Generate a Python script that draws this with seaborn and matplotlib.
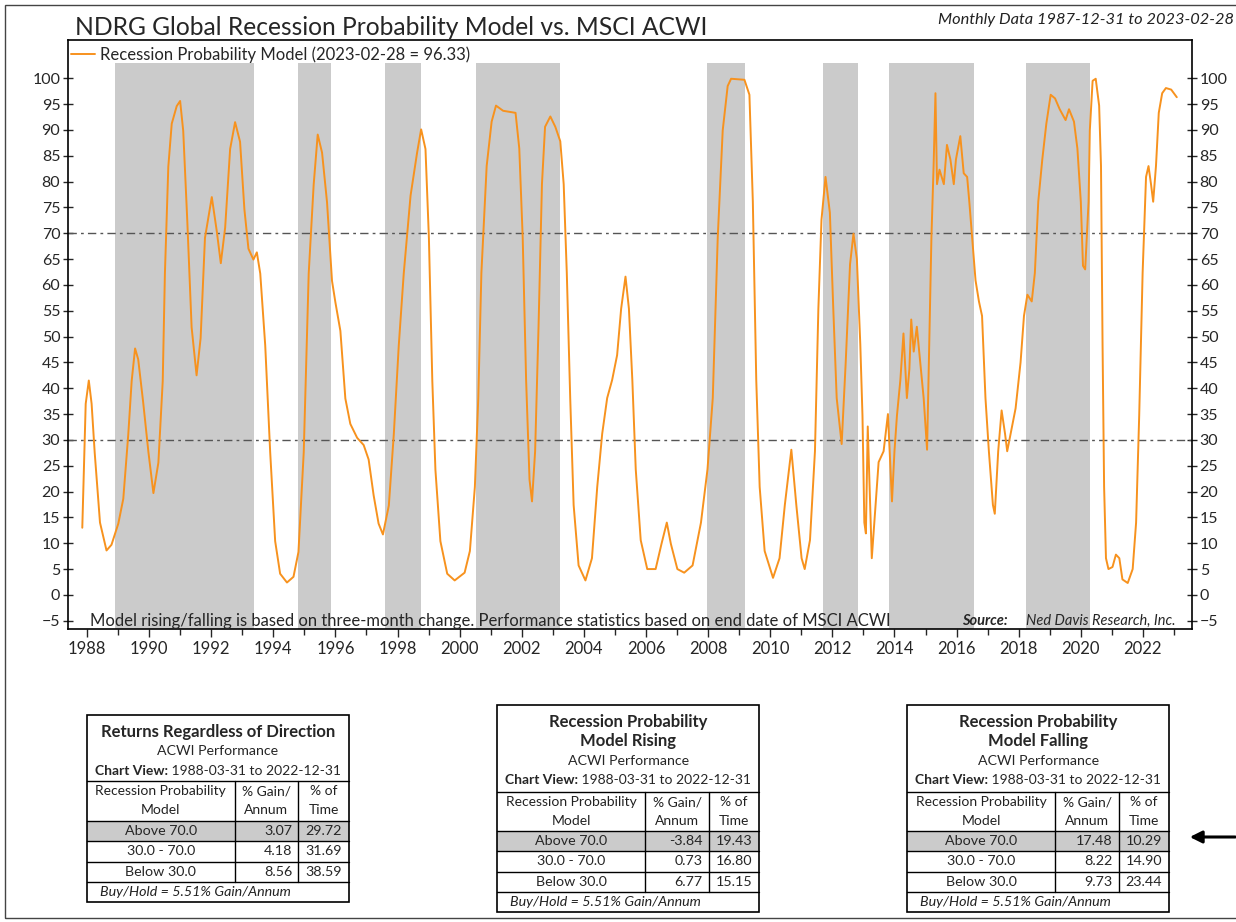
import matplotlib
matplotlib.use('Agg')
import matplotlib.pyplot as plt
from matplotlib.patches import Rectangle, FancyArrowPatch
from matplotlib.lines import Line2D
import matplotlib.transforms as mtransforms
import pandas as pd
import seaborn as sns

# ---- data ----
model_years = [
    1987.85, 1987.96, 1988.06, 1988.15, 1988.25, 1988.42, 1988.63, 1988.79, 1989.01, 1989.17,
    1989.33, 1989.44, 1989.55, 1989.65, 1989.81, 1989.98, 1990.14, 1990.30, 1990.44, 1990.51,
    1990.62, 1990.73, 1990.89, 1991.00, 1991.10, 1991.23, 1991.37, 1991.53, 1991.66, 1991.80,
    1992.02, 1992.18, 1992.31, 1992.45, 1992.61, 1992.77, 1992.93, 1993.07, 1993.20, 1993.36,
    1993.47, 1993.58, 1993.74, 1993.90, 1994.06, 1994.22, 1994.44, 1994.65, 1994.81, 1994.98,
    1995.14, 1995.30, 1995.43, 1995.57, 1995.73, 1995.89, 1996.00, 1996.16, 1996.32, 1996.48,
    1996.70, 1996.91, 1997.07, 1997.23, 1997.39, 1997.53, 1997.72, 1997.88, 1998.04, 1998.20,
    1998.42, 1998.63, 1998.76, 1998.90, 1999.01, 1999.12, 1999.22, 1999.38, 1999.60, 1999.84,
    2000.16, 2000.33, 2000.49, 2000.60, 2000.70, 2000.87, 2001.03, 2001.17, 2001.40, 2001.80,
    2001.92, 2002.03, 2002.14, 2002.25, 2002.33, 2002.43, 2002.54, 2002.65, 2002.75, 2002.92,
    2003.08, 2003.24, 2003.35, 2003.45, 2003.56, 2003.67, 2003.83, 2004.05, 2004.26, 2004.43,
    2004.59, 2004.75, 2004.91, 2005.07, 2005.20, 2005.34, 2005.45, 2005.56, 2005.67, 2005.83,
    2006.04, 2006.31, 2006.50, 2006.67, 2006.80, 2007.01, 2007.23, 2007.50, 2007.77, 2007.98,
    2008.15, 2008.31, 2008.47, 2008.63, 2008.74, 2009.17, 2009.33, 2009.44, 2009.55, 2009.66,
    2009.82, 2010.09, 2010.30, 2010.47, 2010.68, 2010.84, 2011.01, 2011.11, 2011.28, 2011.44,
    2011.55, 2011.65, 2011.78, 2011.92, 2012.03, 2012.14, 2012.30, 2012.43, 2012.57, 2012.68,
    2012.79, 2012.90, 2012.97, 2013.03, 2013.08, 2013.14, 2013.27, 2013.49, 2013.65, 2013.79,
    2013.92, 2014.00, 2014.08, 2014.19, 2014.29, 2014.40, 2014.48, 2014.54, 2014.62, 2014.72,
    2014.83, 2014.94, 2015.05, 2015.12, 2015.19, 2015.26, 2015.32, 2015.37, 2015.45, 2015.59,
    2015.69, 2015.80, 2015.91, 2015.98, 2016.12, 2016.23, 2016.34, 2016.41, 2016.50, 2016.61,
    2016.72, 2016.82, 2016.93, 2017.04, 2017.17, 2017.23, 2017.34, 2017.45, 2017.56, 2017.63,
    2017.74, 2017.90, 2018.06, 2018.17, 2018.28, 2018.42, 2018.52, 2018.63, 2018.76, 2018.89,
    2019.03, 2019.17, 2019.32, 2019.51, 2019.62, 2019.78, 2019.89, 2020.00, 2020.07, 2020.14,
    2020.25, 2020.29, 2020.38, 2020.48, 2020.59, 2020.65, 2020.70, 2020.75, 2020.81, 2020.89,
    2021.02, 2021.13, 2021.24, 2021.34, 2021.51, 2021.67, 2021.78, 2021.88, 2021.99, 2022.10,
    2022.18, 2022.26, 2022.33, 2022.42, 2022.51, 2022.62, 2022.74, 2022.91, 2023.09,
]
model_values = [
    13.0, 37.0, 41.5, 37.0, 27.5, 14.0, 8.6, 9.7, 13.8, 18.6,
    31.0, 41.4, 47.7, 45.6, 37.3, 27.6, 19.7, 25.6, 41.4, 62.2,
    82.9, 91.2, 94.6, 95.6, 89.8, 72.5, 51.8, 42.5, 49.7, 69.1,
    77.0, 70.4, 64.2, 71.1, 86.3, 91.5, 87.7, 74.6, 67.0, 64.9,
    66.3, 62.2, 48.3, 27.6, 10.4, 4.1, 2.4, 3.5, 8.3, 27.6,
    62.2, 79.4, 89.1, 85.6, 76.0, 60.8, 56.6, 51.1, 38.0, 33.1,
    30.4, 29.0, 26.2, 19.3, 13.8, 11.7, 17.3, 31.1, 48.3, 62.2,
    77.3, 85.6, 90.1, 86.3, 69.1, 41.4, 24.2, 10.4, 4.1, 2.8,
    4.3, 8.5, 20.9, 38.1, 62.3, 83.0, 91.6, 94.7, 93.7, 93.3,
    86.4, 69.2, 41.6, 22.3, 18.1, 27.8, 51.9, 79.5, 90.6, 92.6,
    90.6, 87.8, 79.5, 62.3, 38.1, 17.4, 5.7, 2.8, 7.1, 20.9,
    31.2, 38.1, 41.6, 46.4, 55.4, 61.6, 55.4, 41.6, 24.3, 10.6,
    5.0, 5.0, 9.9, 14.0, 9.9, 5.0, 4.3, 5.7, 14.0, 24.3,
    38.1, 69.2, 89.9, 98.5, 99.9, 99.7, 96.8, 76.1, 41.6, 20.9,
    8.5, 3.3, 7.1, 17.4, 28.1, 17.4, 7.1, 5.0, 10.6, 27.8,
    55.4, 72.6, 80.9, 74.0, 55.4, 38.1, 29.2, 45.0, 64.0, 69.9,
    65.0, 48.5, 34.7, 14.0, 11.9, 32.6, 7.1, 25.7, 27.8, 35.0,
    18.1, 27.8, 34.7, 41.6, 50.6, 38.1, 43.7, 53.3, 47.1, 51.9,
    45.0, 38.1, 28.1, 48.5, 69.2, 83.0, 97.1, 79.5, 82.3, 79.5,
    87.1, 84.3, 79.5, 84.3, 88.8, 81.6, 80.9, 76.1, 69.2, 60.9,
    56.8, 54.0, 38.1, 27.8, 17.4, 15.7, 27.8, 35.7, 31.2, 27.8,
    31.2, 36.1, 45.0, 54.0, 58.1, 56.8, 62.3, 76.1, 84.3, 91.2,
    96.8, 96.1, 94.0, 91.9, 94.0, 91.6, 86.4, 76.1, 63.7, 63.0,
    76.1, 89.9, 99.5, 99.9, 94.7, 83.0, 48.5, 20.9, 7.1, 5.0,
    5.4, 7.8, 7.1, 3.0, 2.3, 5.0, 14.0, 34.7, 62.3, 80.9,
    83.0, 79.5, 76.1, 83.0, 93.3, 97.1, 98.1, 97.8, 96.33,
]

band_starts = [1988.90, 1994.81, 1997.61, 2000.52, 2007.97, 2011.71, 2013.81, 2018.23]
band_ends = [1993.39, 1995.87, 1998.74, 2003.23, 2009.19, 2012.81, 2016.55, 2020.29]

zone_labels = ["Above 70.0", "30.0 - 70.0", "Below 30.0"]
all_gain = [3.07, 4.18, 8.56]
all_time = [29.72, 31.69, 38.59]
rising_gain = [-3.84, 0.73, 6.77]
rising_time = [19.43, 16.80, 15.15]
falling_gain = [17.48, 8.22, 9.73]
falling_time = [10.29, 14.90, 23.44]
buy_hold = 5.51
chart_view = "1988-03-31 to 2022-12-31"

ORANGE = '#f7921e'
BAND = '#cbcbcb'

sns.set_style('white')
plt.rcParams['font.family'] = ['Lato', 'DejaVu Sans']

W, H = 1236, 922
fig = plt.figure(figsize=(W / 100, H / 100), dpi=100)


def fx(x):
    return x / W


def fy(y):
    return 1 - y / H


# ---- main chart ----
ax = fig.add_axes([fx(68), fy(629), fx(1192) - fx(68), fy(40) - fy(629)])
ylo, yhi = -6.6, 107.4
band_top = (103 - ylo) / (yhi - ylo)
for a, b in zip(band_starts, band_ends):
    ax.axvspan(a, b, ymin=0, ymax=band_top, color=BAND, lw=0, zorder=0)

for lvl in (30, 70):
    ax.axhline(lvl, color='#555555', lw=1.0, dashes=(6, 3, 2, 3), zorder=1)

df = pd.DataFrame({'year': model_years, 'prob': model_values})
sns.lineplot(data=df, x='year', y='prob', ax=ax, color=ORANGE, lw=1.4, zorder=3,
             label='Recession Probability Model (2023-02-28 = 96.33)')

ax.set_xlim(1987.39, 2023.58)
ax.set_ylim(ylo, yhi)
ax.set_xticks(range(1988, 2023, 2))
ax.set_xticks(range(1989, 2024, 2), minor=True)
ax.set_yticks(range(-5, 101, 5))
ax.set_xlabel('')
ax.set_ylabel('')
ax.tick_params(axis='y', left=True, right=True, labelleft=True, labelright=True,
               direction='inout', length=7, width=1, labelsize=11.5, pad=2)
ax.tick_params(axis='x', which='major', bottom=True, direction='out', length=6, width=1,
               labelsize=12, pad=3)
ax.tick_params(axis='x', which='minor', bottom=True, direction='out', length=4, width=1)
for sp in ax.spines.values():
    sp.set_color('black')
    sp.set_linewidth(1.2)

ax.legend(loc='center left', bbox_to_anchor=(0.003, 1 - 15 / 589), frameon=False,
          fontsize=12, handlelength=1.4, handletextpad=0.3, borderpad=0, borderaxespad=0)

trans = mtransforms.blended_transform_factory(ax.transAxes, ax.transData)
ax.text((90 - 68) / 1124, -5, 'Model rising/falling is based on three-month change. '
        'Performance statistics based on end date of MSCI ACWI',
        transform=trans, va='center', ha='left', fontsize=12, zorder=4)
ax.text((962 - 68) / 1124, -5, 'Source:', transform=trans, va='center', ha='left',
        fontsize=10.5, style='italic', fontweight='bold', zorder=4)
ax.text((1175 - 68) / 1124, -5, 'Ned Davis Research, Inc.', transform=trans, va='center',
        ha='right', fontsize=10.5, style='italic', zorder=4)

fig.text(fx(75), fy(35), 'NDRG Global Recession Probability Model vs. MSCI ACWI',
         fontsize=17.7, ha='left', va='baseline')
fig.text(fx(1234), fy(24), 'Monthly Data 1987-12-31 to 2023-02-28', fontsize=11.8,
         style='italic', ha='right', va='baseline', color='#222222')

# ---- tables ----
renderer = fig.canvas.get_renderer()


def hline(x0, x1, y, lw=1.0):
    fig.add_artist(Line2D([fx(x0), fx(x1)], [fy(y), fy(y)], color='black', lw=lw,
                          transform=fig.transFigure))


def vline(x, y0, y1, lw=1.0):
    fig.add_artist(Line2D([fx(x), fx(x)], [fy(y0), fy(y1)], color='black', lw=lw,
                          transform=fig.transFigure))


def chart_view_line(cx, y):
    t1 = fig.text(0, fy(y), 'Chart View:', fontsize=10, fontweight='bold', va='center')
    t2 = fig.text(0, fy(y), ' ' + chart_view, fontsize=10, va='center')
    w1 = t1.get_window_extent(renderer).width
    w2 = t2.get_window_extent(renderer).width
    start = cx - (w1 + w2) / 2
    t1.set_x(fx(start))
    t2.set_x(fx(start + w1))


def draw_table(left, top, titles, gains, times, title_h, header_h):
    width = 262
    right = left + width
    c1, c2 = left + 148, left + 211.5
    row_h, foot_h = 20.3, 20.5
    y_head = top + title_h
    y_rows = y_head + header_h
    y_foot = y_rows + 3 * row_h
    bottom = y_foot + foot_h
    cx = left + width / 2

    # highlighted "Above 70.0" row
    fig.add_artist(Rectangle((fx(left), fy(y_rows + row_h)), fx(width), fy(y_rows) - fy(y_rows + row_h),
                             transform=fig.transFigure, color=BAND, lw=0))

    for i, (txt, size, weight) in enumerate(titles):
        y = top + 16.7 + i * 19.4
        if txt == 'CHART_VIEW':
            chart_view_line(cx, y)
        else:
            fig.text(fx(cx), fy(y), txt, fontsize=size, fontweight=weight, ha='center', va='center')

    for txt, x in [('Recession Probability\nModel', left + 74), ('% Gain/\nAnnum', (c1 + c2) / 2),
                   ('% of\nTime', (c2 + right) / 2)]:
        for j, part in enumerate(txt.split('\n')):
            fig.text(fx(x), fy(y_head + 10 + j * 18.6), part, fontsize=10, ha='center', va='center',
                     color='#222222')

    for k in range(3):
        y = y_rows + (k + 0.5) * row_h
        fig.text(fx(left + 74), fy(y), zone_labels[k], fontsize=10.3, ha='center', va='center')
        fig.text(fx(c2 - 6), fy(y), f'{gains[k]:.2f}', fontsize=10.3, ha='right', va='center')
        fig.text(fx(right - 7), fy(y), f'{times[k]:.2f}', fontsize=10.3, ha='right', va='center')

    fig.text(fx(left + 13), fy(y_foot + foot_h / 2), f'Buy/Hold = {buy_hold:.2f}% Gain/Annum',
             fontsize=10.3, style='italic', ha='left', va='center', color='#222222')

    # grid lines
    for y in [y_head, y_rows, y_rows + row_h, y_rows + 2 * row_h, y_foot]:
        hline(left, right, y)
    vline(c1, y_head, y_foot)
    vline(c2, y_head, y_foot)
    fig.add_artist(Rectangle((fx(left), fy(bottom)), fx(width), fy(top) - fy(bottom), fill=False,
                             ec='black', lw=1.2, transform=fig.transFigure))


draw_table(86.7, 715,
           [('Returns Regardless of Direction', 12, 'bold'), ('ACWI Performance', 10.2, 'normal'),
            ('CHART_VIEW', 10, 'normal')],
           all_gain, all_time, 66, 40)
draw_table(497.3, 705,
           [('Recession Probability', 12, 'bold'), ('Model Rising', 12, 'bold'),
            ('ACWI Performance', 10.2, 'normal'), ('CHART_VIEW', 10, 'normal')],
           rising_gain, rising_time, 87, 39)
draw_table(907.3, 705,
           [('Recession Probability', 12, 'bold'), ('Model Falling', 12, 'bold'),
            ('ACWI Performance', 10.2, 'normal'), ('CHART_VIEW', 10, 'normal')],
           falling_gain, falling_time, 87, 39)

fig.add_artist(FancyArrowPatch((fx(1238), fy(837)), (fx(1187), fy(837)), transform=fig.transFigure,
                               arrowstyle='-|>', mutation_scale=18, color='black', lw=2.2))

# outer frame
fig.add_artist(Rectangle((fx(5), fy(918)), fx(1240) - fx(5), fy(5) - fy(918), fill=False,
                         ec='#444444', lw=1.0, transform=fig.transFigure))

fig.savefig('out.png', dpi=100)
